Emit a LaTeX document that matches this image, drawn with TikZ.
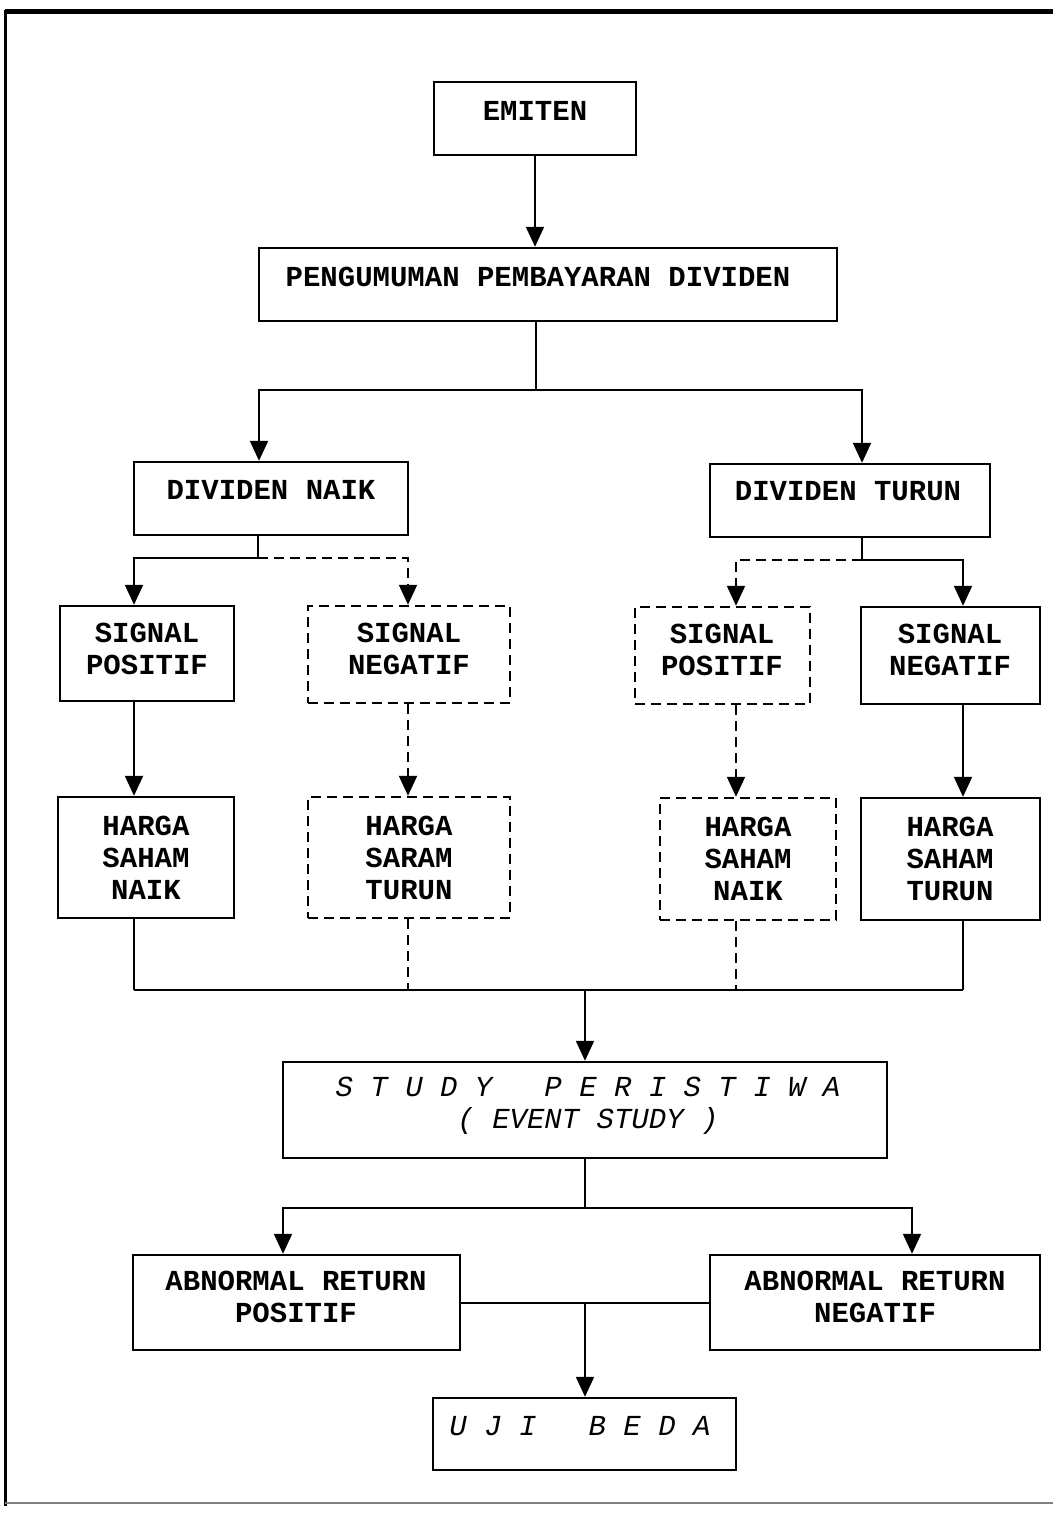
\documentclass[tikz,border=0pt]{standalone}
\usepackage{fontspec}
\setmonofont{Liberation Mono}
\usetikzlibrary{arrows.meta}
\begin{document}
\begin{tikzpicture}[x=0.5pt,y=-0.5pt,
 box/.style={draw, line width=1.2pt, inner sep=0pt},
 dbox/.style={box, dash pattern=on 5pt off 3pt},
 txt/.style={font=\fontsize{14.5}{16}\selectfont\ttfamily\bfseries, align=center, inner sep=0pt},
 itxt/.style={font=\fontsize{14.5}{16}\selectfont\ttfamily\itshape, align=center, inner sep=0pt},
 conn/.style={line width=1pt},
 dconn/.style={conn, dash pattern=on 5pt off 3pt},
 thin conn/.style={line width=0.7pt},
 thin dconn/.style={line width=0.7pt, dash pattern=on 5pt off 3pt},
 arr/.style={conn, -{Triangle[width=9pt,length=10pt]}},
 darr/.style={dconn, -{Triangle[width=9pt,length=10pt]}},
]
\useasboundingbox (0,0) rectangle (1053,1514);
% frame
\draw[line width=2.5pt] (5,12) -- (1053,12);
\draw[line width=1.6pt] (5.5,10) -- (5.5,1506);
\draw[line width=0.7pt, gray] (5,1503) -- (1053,1503);

% boxes
\node[box, minimum width=101pt, minimum height=36.5pt] (emiten) at (535,118.5) {};
\node[txt] (emitenT) at (535,111) {EMITEN};
\node[box, minimum width=289pt, minimum height=36.5pt] (peng) at (548,284.5) {};
\node[txt] (pengT) at (538,277) {PENGUMUMAN PEMBAYARAN DIVIDEN};

\node[box, minimum width=137pt, minimum height=36.5pt] (dnaik) at (271,498.5) {};
\node[txt] (dnaikT) at (271,490) {DIVIDEN NAIK};
\node[box, minimum width=140pt, minimum height=36.5pt] (dturun) at (850,500.5) {};
\node[txt] (dturunT) at (848,491) {DIVIDEN TURUN};

\node[box, minimum width=87pt, minimum height=47.5pt] (spA) at (147,653.5) {};
\node[txt] (spAT) at (147,649) {SIGNAL\\POSITIF};
\node[dbox, minimum width=101pt, minimum height=48.5pt] (snA) at (409,654.5) {};
\node[txt] (snAT) at (409,649) {SIGNAL\\NEGATIF};
\node[dbox, minimum width=87.5pt, minimum height=48.5pt] (spB) at (722.5,655.5) {};
\node[txt] (spBT) at (722,650) {SIGNAL\\POSITIF};
\node[box, minimum width=89.5pt, minimum height=48.5pt] (snB) at (950.5,655.5) {};
\node[txt] (snBT) at (950,650) {SIGNAL\\NEGATIF};

\node[box, minimum width=88pt, minimum height=60.5pt] (hA) at (146,857.5) {};
\node[txt] (hAT) at (146,858) {HARGA\\SAHAM\\NAIK};
\node[dbox, minimum width=101pt, minimum height=60.5pt] (hB) at (409,857.5) {};
\node[txt] (hBT) at (409,858) {HARGA\\SARAM\\TURUN};
\node[dbox, minimum width=88pt, minimum height=61pt] (hC) at (748,859) {};
\node[txt] (hCT) at (748,859) {HARGA\\SAHAM\\NAIK};
\node[box, minimum width=89.5pt, minimum height=61pt] (hD) at (950.5,859) {};
\node[txt] (hDT) at (950,859) {HARGA\\SAHAM\\TURUN};

\node[box, minimum width=302pt, minimum height=48pt] (study) at (585,1110) {};
\node[itxt] (studyT) at (588,1106) {S~T~U~D~Y~~~P~E~R~I~S~T~I~W~A\\(~EVENT~STUDY~)};

\node[box, minimum width=163.5pt, minimum height=47.5pt] (arpos) at (296.5,1302.5) {};
\node[txt] (arposT) at (296,1297) {ABNORMAL RETURN\\POSITIF};
\node[box, minimum width=165pt, minimum height=47.5pt] (arneg) at (875,1302.5) {};
\node[txt] (arnegT) at (875,1297) {ABNORMAL RETURN\\NEGATIF};

\node[box, minimum width=151.5pt, minimum height=36pt] (uji) at (584.5,1434) {};
\node[itxt] (ujiT) at (580,1426) {U~J~I~~~B~E~D~A};

% junction coordinates
\coordinate (j1) at (536,390);
\coordinate (j1l) at (259,390);
\coordinate (j1r) at (862,390);
\coordinate (j2) at (258,558);
\coordinate (j2l) at (134,558);
\coordinate (j2r) at (408,558);
\coordinate (j3) at (862,560);
\coordinate (j3l) at (736,560);
\coordinate (j3r) at (963,560);
\coordinate (j4) at (585,990);
\coordinate (j4l) at (134,990);
\coordinate (j4a) at (408,990);
\coordinate (j4b) at (736,990);
\coordinate (j4r) at (963,990);
\coordinate (j5) at (585,1208);
\coordinate (j5l) at (283,1208);
\coordinate (j5r) at (912,1208);
\coordinate (j6) at (585,1302);

% connectors
\draw[arr] (emiten.south) -- (emiten.south |- peng.north);
\draw[conn] (j1 |- peng.south) -- (j1);
\draw[arr] (j1) -- (j1l) -- (j1l |- dnaik.north);
\draw[arr] (j1) -- (j1r) -- (j1r |- dturun.north);

\draw[conn] (j2 |- dnaik.south) -- (j2);
\draw[arr] (j2) -- (j2l) -- (j2l |- spA.north);
\draw[darr] (j2) -- (j2r) -- (j2r |- snA.north);
\draw[conn] (j3 |- dturun.south) -- (j3);
\draw[darr] (j3) -- (j3l) -- (j3l |- spB.north);
\draw[arr] (j3) -- (j3r) -- (j3r |- snB.north);

\draw[arr] (j2l |- spA.south) -- (j2l |- hA.north);
\draw[darr] (j2r |- snA.south) -- (j2r |- hB.north);
\draw[darr] (j3l |- spB.south) -- (j3l |- hC.north);
\draw[arr] (j3r |- snB.south) -- (j3r |- hD.north);

\draw[thin conn] (j4l |- hA.south) -- (j4l);
\draw[thin dconn] (j4a |- hB.south) -- (j4a);
\draw[thin dconn] (j4b |- hC.south) -- (j4b);
\draw[thin conn] (j4r |- hD.south) -- (j4r);
\draw[conn] (j4l) -- (j4r);
\draw[arr] (j4) -- (j4 |- study.north);

\draw[conn] (j5 |- study.south) -- (j5);
\draw[arr] (j5) -- (j5l) -- (j5l |- arpos.north);
\draw[arr] (j5) -- (j5r) -- (j5r |- arneg.north);

\draw[conn] (arpos.east) -- (arneg.west);
\draw[arr] (j6) -- (j6 |- uji.north);
\end{tikzpicture}
\end{document}
